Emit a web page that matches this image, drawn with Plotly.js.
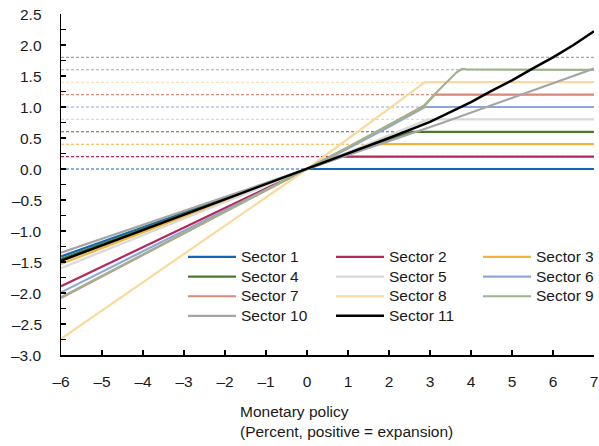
<!DOCTYPE html>
<html>
<head>
<meta charset="utf-8">
<script src="https://cdn.plot.ly/plotly-3.0.1.min.js"></script>
<style>html,body{margin:0;padding:0;background:#fff;}#chart{width:599px;height:446px;}</style>
</head>
<body>
<div id="chart"></div>
<script>
// ---- data ----
const sectorNames = ["Sector 1","Sector 2","Sector 3","Sector 4","Sector 5","Sector 6","Sector 7","Sector 8","Sector 9","Sector 10","Sector 11"];
const sectorColors = ["#1565B8","#B5285A","#F2B53C","#4A7A2C","#D9D9D9","#8EA7D9","#D8897B","#F9DA9C","#9EB38D","#A5A5A5","#000000"];
const sectorCaps = [0.0, 0.2, 0.4, 0.6, 0.8, 1.0, 1.2, 1.4, 1.6, 1.8, null];

const x1 = [-6, 0, 7];                     const y1 = [-1.41, 0, 0];
const x2 = [-6, 0, 0.72, 7];               const y2 = [-1.89, 0, 0.2, 0.2];
const x3 = [-6, 0, 1.58, 7];               const y3 = [-1.53, 0, 0.4, 0.4];
const x4 = [-6, 0, 2.55, 7];               const y4 = [-1.45, 0, 0.6, 0.6];
const x5 = [-6, 0, 2.95, 7];               const y5 = [-1.60, 0, 0.8, 0.8];
const x6 = [-6, 0, 1, 2, 2.5, 2.88, 7];    const y6 = [-1.99, 0, 0.33, 0.68, 0.86, 1.0, 1.0];
const x7 = [-6, 0, 1, 2, 2.5, 2.85, 3.0, 3.12, 7];
const y7 = [-2.08, 0, 0.35, 0.71, 0.89, 1.02, 1.12, 1.2, 1.2];
const x8 = [-6, 0, 2.88, 7];               const y8 = [-2.74, 0, 1.4, 1.4];
const x9 = [-6, 0, 1, 2, 2.5, 2.84, 3.12, 3.45, 3.65, 3.78, 3.9, 7];
const y9 = [-2.07, 0, 0.35, 0.71, 0.89, 1.0, 1.21, 1.43, 1.56, 1.615, 1.605, 1.6];
const x10 = [-6, 0, 3.24, 7];              const y10 = [-1.35, 0, 0.73, 1.62];
const x11 = [-6, 0, 1, 2, 3, 3.5, 4, 4.5, 5, 5.5, 6, 6.5, 7];
const y11 = [-1.48, 0, 0.25, 0.5, 0.76, 0.92, 1.08, 1.26, 1.43, 1.62, 1.8, 2.0, 2.22];

const seriesX = [x1,x2,x3,x4,x5,x6,x7,x8,x9,x10,x11];
const seriesY = [y1,y2,y3,y4,y5,y6,y7,y8,y9,y10,y11];
// legend column of each sector (3 columns, filled row by row)
const legendColumn = ["legend","legend2","legend3","legend","legend2","legend3","legend","legend2","legend3","legend","legend2"];

const xTickVals = [-6,-5,-4,-3,-2,-1,0,1,2,3,4,5,6,7];
const yTickVals = [-3.0,-2.5,-2.0,-1.5,-1.0,-0.5,0.0,0.5,1.0,1.5,2.0,2.5];
const xRange = [-6, 7];
const yRange = [-3, 2.5];
const xTitleText = "Monetary policy<br>(Percent, positive = expansion)";

// ---- traces ----
const traces = [];
sectorCaps.forEach((c, i) => {
  if (c === null) return;
  traces.push({
    type: "scatter", mode: "lines",
    x: xRange, y: [c, c],
    line: {color: sectorColors[i], width: 1.1, dash: "3px,2px"},
    showlegend: false, hoverinfo: "skip"
  });
});
sectorNames.forEach((n, i) => {
  traces.push({
    type: "scatter", mode: "lines", name: '<span style="font-size:15.5px">' + n + '</span>',
    legend: legendColumn[i],
    x: seriesX[i], y: seriesY[i],
    line: {color: sectorColors[i], width: i === 10 ? 2.5 : 2.2}
  });
});

const fontFam = "Liberation Sans, Arial, sans-serif";
const textColor = "#1a1a1a";
function legendAt(xp) {
  return {
    orientation: "v", x: xp, xanchor: "left", y: 0.331, yanchor: "top",
    itemwidth: 48, bgcolor: "rgba(255,255,255,0)", borderwidth: 0,
    font: {family: fontFam, size: 12.8, color: textColor},
    traceorder: "normal", tracegroupgap: 0
  };
}
const fmtY = v => (v < 0 ? "\u2013" : "") + Math.abs(v).toFixed(1);
// y tick labels, right-aligned against the axis, placed through the y scale
const yLabelAnnotations = yTickVals.map(v => ({
  text: fmtY(v), xref: "paper", yref: "y", x: -0.031, y: v,
  xanchor: "right", yanchor: "middle", showarrow: false,
  font: {family: fontFam, size: 15.5, color: textColor}
}));

const layout = {
  width: 599, height: 446,
  margin: {l: 61, r: 5, t: 14, b: 91, autoexpand: false},
  paper_bgcolor: "#fff", plot_bgcolor: "#fff",
  font: {family: fontFam, size: 15.5, color: textColor},
  showlegend: true,
  legend: legendAt(0.2289),
  legend2: legendAt(0.5066),
  legend3: legendAt(0.7824),
  xaxis: {
    range: xRange, tickvals: xTickVals, ticktext: xTickVals.map(v => v < 0 ? "\u2013" + Math.abs(v) : String(v)),
    showgrid: false, zeroline: false, showline: true, linecolor: "#000", linewidth: 1.5,
    ticks: "inside", ticklen: 5, tickcolor: "#000", tickwidth: 1.2,
    ticklabelstandoff: 12
  },
  yaxis: {
    range: yRange, tickvals: yTickVals, showticklabels: false,
    showgrid: false, zeroline: false, showline: true, linecolor: "#000", linewidth: 1.5,
    ticks: "inside", ticklen: 5, tickcolor: "#000", tickwidth: 1.2,
    minor: {dtick: 0.25, tick0: 0, ticks: "inside", ticklen: 5, tickcolor: "#000", tickwidth: 1.2}
  },
  annotations: yLabelAnnotations.concat([{
    text: xTitleText, xref: "paper", yref: "paper",
    x: 0.333, y: -0.136, xanchor: "left", yanchor: "top", align: "left",
    showarrow: false, font: {family: fontFam, size: 15.5, color: textColor}
  }])
};

Plotly.newPlot("chart", traces, layout, {staticPlot: true, displayModeBar: false});
</script>
</body>
</html>
